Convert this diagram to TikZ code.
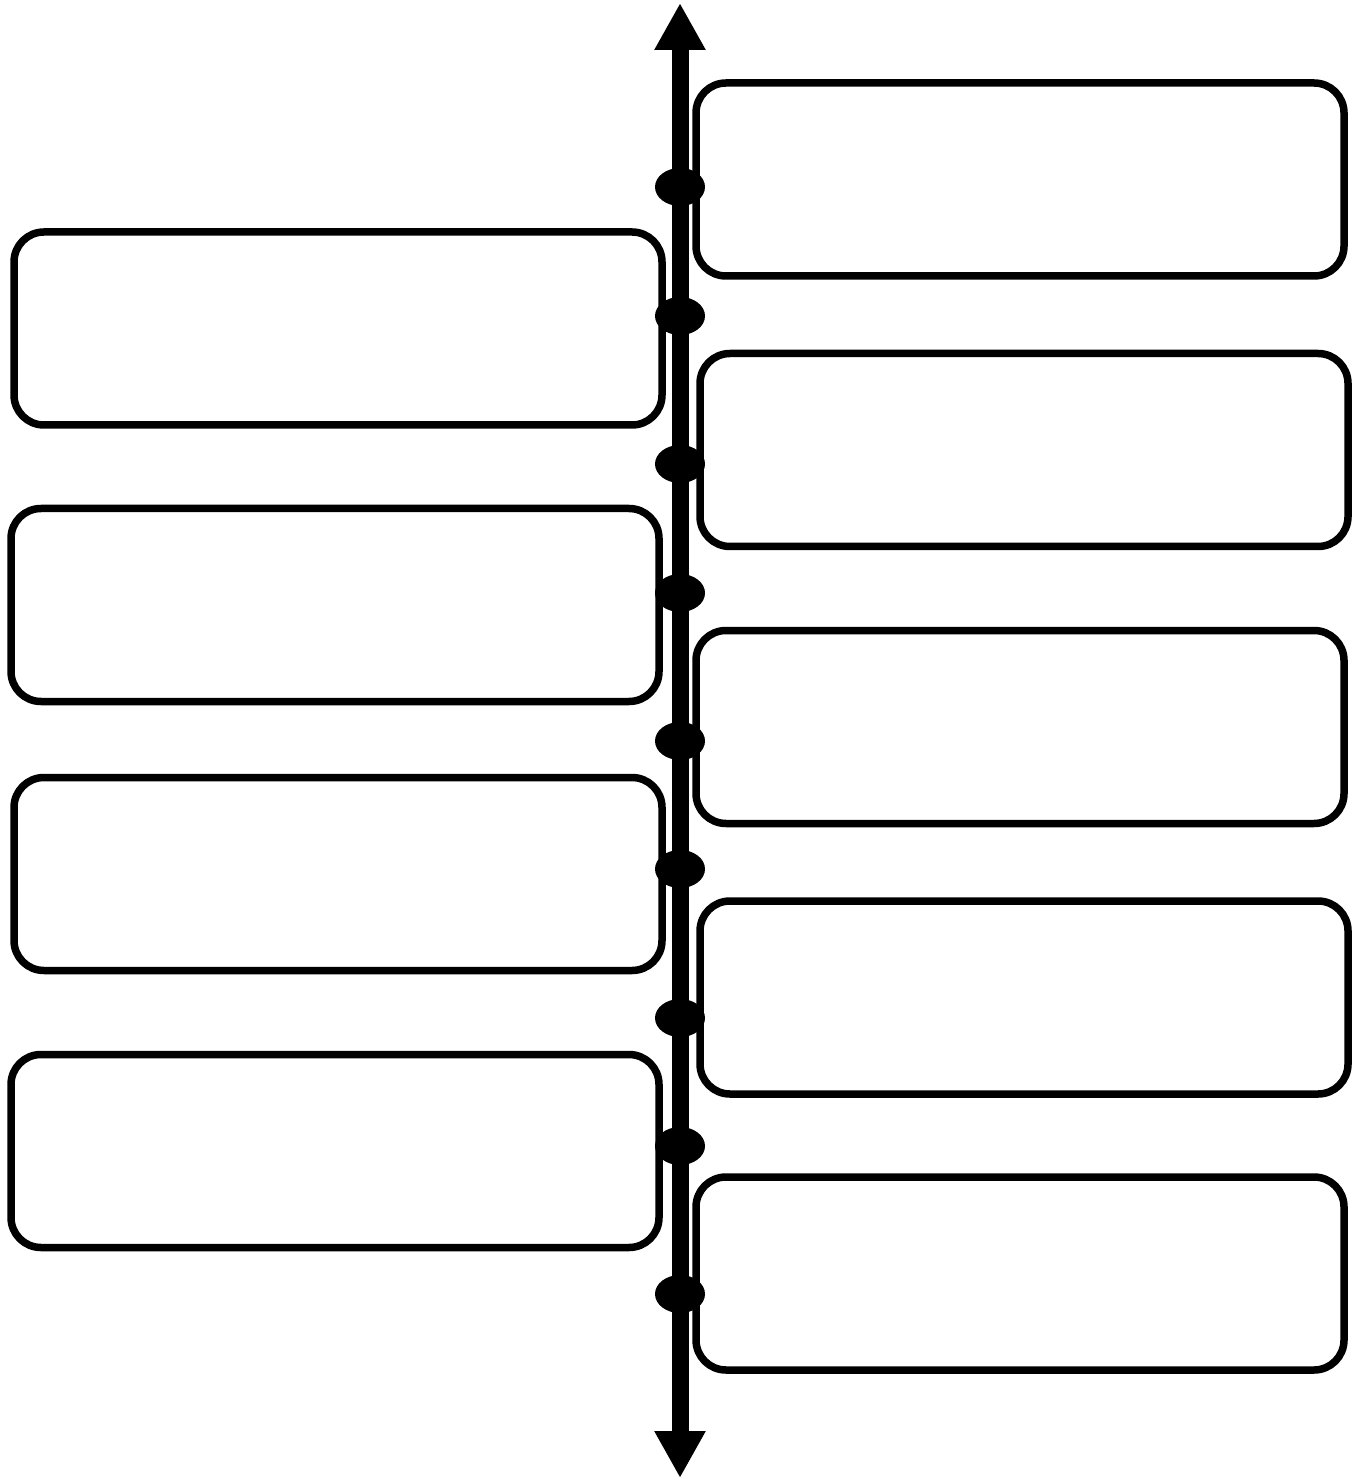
\documentclass[tikz,border=0pt]{standalone}
\usepackage{tikz}
\usetikzlibrary{arrows.meta,shapes.geometric}

\tikzset{
  eventbox/.style={draw, rectangle, rounded corners=0.3cm, line width=0.075cm, minimum width=6.48cm, minimum height=1.93cm, inner sep=0pt},
  tickdot/.style={ellipse, fill=black, minimum width=0.50cm, minimum height=0.38cm, inner sep=0pt}
}

\begin{document}
\begin{tikzpicture}
\useasboundingbox (0,0) rectangle (13.58,-14.79);

% Axis ends
\coordinate (top) at (6.80,-0.03);
\coordinate (bottom) at (6.80,-14.78);

% Right boxes
\node[eventbox] (r1) at (10.20,-1.795) {};
\node[eventbox] (r2) at (10.24,-4.50) {};
\node[eventbox] (r3) at (10.20,-7.27) {};
\node[eventbox] (r4) at (10.24,-9.975) {};
\node[eventbox] (r5) at (10.20,-12.735) {};

% Left boxes
\node[eventbox] (l1) at (3.38,-3.285) {};
\node[eventbox] (l2) at (3.35,-6.05) {};
\node[eventbox] (l3) at (3.38,-8.74) {};
\node[eventbox] (l4) at (3.35,-11.51) {};

% Time axis
\draw[line width=0.17cm, {Triangle[width=0.48cm,length=0.47cm]}-{Triangle[width=0.48cm,length=0.47cm]}] (bottom) -- (top);

% Dots on the axis
\foreach \i/\y in {1/1.87, 2/3.16, 3/4.64, 4/5.93, 5/7.41, 6/8.69, 7/10.18, 8/11.46, 9/12.94}
  \node[tickdot] (d\i) at (6.80,-\y) {};
\end{tikzpicture}
\end{document}
